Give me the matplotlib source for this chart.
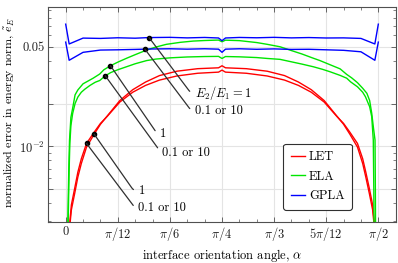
import numpy as np
import matplotlib
matplotlib.use("Agg")
import matplotlib.pyplot as plt
from matplotlib.ticker import FixedLocator, MultipleLocator, NullFormatter

plt.rcParams["font.family"] = "serif"
plt.rcParams["font.serif"] = ["cmr10"]
plt.rcParams["mathtext.fontset"] = "cm"
plt.rcParams["axes.unicode_minus"] = False

# orientation angle in degrees, normalized error
alpha_gpla = [0, 1, 5, 10, 15, 20, 24, 30, 35, 40, 44, 45, 46, 50, 55, 60, 65, 70, 75, 80, 85, 89, 90]
gpla_1 = [0.0720, 0.0523, 0.0575, 0.0572, 0.0578, 0.0574, 0.0580, 0.0582, 0.0577, 0.0581, 0.0576, 0.0551,
          0.0576, 0.0581, 0.0578, 0.0582, 0.0577, 0.0580, 0.0576, 0.0577, 0.0572, 0.0523, 0.0720]
gpla_k = [0.0539, 0.0402, 0.0457, 0.0474, 0.0476, 0.0479, 0.0482, 0.0484, 0.0481, 0.0484, 0.0481, 0.0457,
          0.0481, 0.0484, 0.0480, 0.0483, 0.0479, 0.0480, 0.0476, 0.0472, 0.0461, 0.0402, 0.0539]

alpha_ela_1 = [0.6, 0.75, 0.9, 1.1, 1.5, 2.0, 2.7, 3.5, 5, 7.9, 9.8, 11, 12.9, 15, 17.5, 20, 23.3, 26, 29, 33,
               36.7, 40, 44, 45, 46, 50, 55, 58, 61.7, 65, 68, 71, 73.2, 76, 79, 80.9, 82.3, 84, 85.5, 86.7,
               87.5, 88.1, 88.6, 89.05, 89.15, 89.2]
ela_1 = [0.0028, 0.0045, 0.0070, 0.0110, 0.0160, 0.0185, 0.0230, 0.0249, 0.0275, 0.0301,
         0.0322, 0.0345, 0.0368, 0.0390, 0.0415, 0.0440, 0.0474, 0.0498, 0.0520, 0.0537,
         0.0548, 0.0553, 0.0557, 0.0542, 0.0556, 0.0552, 0.0535, 0.0520, 0.0500, 0.0470,
         0.0445, 0.0418, 0.0400, 0.0375, 0.0350, 0.0320, 0.0303, 0.0280, 0.0256, 0.0236,
         0.0210, 0.0171, 0.0135, 0.0111, 0.0050, 0.0028]
alpha_ela_k = [0.7, 0.85, 1.0, 1.2, 1.5, 2.0, 2.7, 3.5, 4.5, 5.5, 7, 8.5, 9.8, 11.4, 13, 15, 17.5, 20, 23.3, 26,
               30, 35, 40, 44, 45, 46, 50, 55, 58, 61.7, 65, 68, 71.3, 74, 76.1, 79, 80.9, 82, 84, 85.5,
               86.3, 87.5, 88.1, 88.55, 88.7, 88.75]
ela_k = [0.0028, 0.0045, 0.0070, 0.0105, 0.0140, 0.0170, 0.0200, 0.0222, 0.0240, 0.0252,
         0.0268, 0.0282, 0.0290, 0.0313, 0.0330, 0.0345, 0.0362, 0.0380, 0.0400, 0.0410,
         0.0418, 0.0424, 0.0427, 0.0428, 0.0414, 0.0427, 0.0425, 0.0420, 0.0414, 0.0408,
         0.0392, 0.0378, 0.0362, 0.0347, 0.0334, 0.0315, 0.0301, 0.0284, 0.0262, 0.0240,
         0.0223, 0.0190, 0.0162, 0.0111, 0.0050, 0.0028]

alpha_let_1 = [1.2, 1.64, 2.6, 3.5, 4.5, 6, 8.2, 10, 12, 15.6, 19.3, 23, 27, 32, 38, 44, 45, 46, 52, 58,
               63, 67, 70.7, 74.4, 78, 80, 81.8, 84, 85.5, 86.4, 87.4, 88.36, 88.8]
let_1 = [0.0028, 0.0036, 0.0047, 0.0061, 0.0076, 0.0099, 0.0122, 0.0143, 0.0164, 0.0210,
         0.0250, 0.0283, 0.0314, 0.0337, 0.0351, 0.0356, 0.0368, 0.0356, 0.0351, 0.0337,
         0.0314, 0.0283, 0.0250, 0.0210, 0.0164, 0.0143, 0.0122, 0.0099, 0.0076, 0.0061,
         0.0047, 0.0036, 0.0028]
alpha_let_k = [1.1, 1.64, 2.6, 3.5, 4.5, 6, 8.2, 10, 12, 15.6, 19.3, 23, 27, 32, 38, 44, 45, 46, 52, 58,
               63, 67, 70.7, 74.4, 78, 80, 81.8, 84, 85.5, 86.4, 87.4, 88.36, 88.9]
let_k = [0.0028, 0.0039, 0.0051, 0.0066, 0.0082, 0.0105, 0.0126, 0.0145, 0.0163, 0.0205,
         0.0240, 0.0268, 0.0292, 0.0312, 0.0326, 0.0332, 0.0343, 0.0332, 0.0326, 0.0312,
         0.0292, 0.0268, 0.0240, 0.0205, 0.0163, 0.0145, 0.0126, 0.0105, 0.0082, 0.0066,
         0.0051, 0.0039, 0.0028]

xtick_labels = ["$0$", r"$\pi/12$", r"$\pi/6$", r"$\pi/4$", r"$\pi/3$", r"$5\pi/12$", r"$\pi/2$"]

red, green, blue = "#ff0000", "#00e600", "#0000ff"
fs = 9

fig = plt.figure(figsize=(3.98, 2.63), dpi=100)
ax = fig.add_axes([0.1214, 0.157, 0.8728, 0.8152])

series = {
    "let_1": (alpha_let_1, let_1, red),
    "let_k": (alpha_let_k, let_k, red),
    "ela_1": (alpha_ela_1, ela_1, green),
    "ela_k": (alpha_ela_k, ela_k, green),
    "gpla_1": (alpha_gpla, gpla_1, blue),
    "gpla_k": (alpha_gpla, gpla_k, blue),
}
labels = {"let_1": "LET", "ela_1": "ELA", "gpla_1": "GPLA"}
handles = []
for key, (a, v, c) in series.items():
    ln, = ax.plot(np.deg2rad(a), v, color=c, lw=1.0, zorder=3)
    if key in labels:
        ln.set_label(labels[key])
        handles.append(ln)

# annotations: (series, marker angle in deg, text, text x in rad, text y, leader angle)
notes = [
    ("gpla_1", 24.0, r"$E_2/E_1 = 1$", 0.649, 0.0236, 127),
    ("gpla_k", 22.8, "0.1 or 10", 0.649, 0.0178, 127),
    ("ela_1", 12.9, "1", 0.473, 0.01224, 124.5),
    ("ela_k", 11.4, "0.1 or 10", 0.484, 0.00896, 126),
    ("let_1", 8.2, "1", 0.367, 0.00488, 125),
    ("let_k", 6.0, "0.1 or 10", 0.364, 0.00369, 127),
]
for key, am, txt, tx, ty, ang in notes:
    a, v, c = series[key]
    vm = np.exp(np.interp(am, a, np.log(v)))
    ax.plot(np.deg2rad(am), vm, "o", color="black", ms=3.0, zorder=6)
    ax.annotate(txt, xy=(np.deg2rad(am), vm), xytext=(tx, ty), ha="left", va="center",
                fontsize=fs, zorder=6,
                arrowprops=dict(arrowstyle="-", color="#303030", lw=0.9, shrinkA=2, shrinkB=0,
                                connectionstyle=f"angle,angleA=0,angleB={ang},rad=4"))

ax.set_yscale("log")
ax.set_xlim(-np.pi / 36, np.pi / 2 + np.pi / 36)
ax.set_ylim(0.00297, 0.0945)

ax.set_xticks(np.arange(7) * np.pi / 12)
ax.set_xticklabels(xtick_labels)
ax.xaxis.set_minor_locator(MultipleLocator(np.pi / 36))
ax.yaxis.set_major_locator(FixedLocator([0.005, 0.01, 0.02, 0.05]))
ax.set_yticklabels(["", r"$10^{-2}$", "", "0.05"])
ax.yaxis.set_minor_locator(FixedLocator([0.003, 0.004, 0.006, 0.007, 0.008, 0.009,
                                         0.03, 0.04, 0.06, 0.07, 0.08, 0.09]))
ax.yaxis.set_minor_formatter(NullFormatter())

ax.tick_params(which="both", direction="in", top=True, right=True, colors="#505050",
               labelcolor="#202020", labelsize=fs)
ax.tick_params(axis="x", pad=2.5)
ax.tick_params(axis="y", pad=2.5)
ax.tick_params(which="major", length=3.5, width=0.6)
ax.tick_params(which="minor", length=2.2, width=0.5)
ax.grid(True, which="major", color="#e4e4e4", lw=0.8, zorder=0)
ax.set_axisbelow(True)
for s in ax.spines.values():
    s.set_color("#505050")
    s.set_linewidth(0.8)

ax.set_xlabel(r"interface orientation angle, $\alpha$", fontsize=fs)
ax.set_ylabel(r"normalized error in energy norm, $\tilde{e}_E$", fontsize=8.6)
ax.xaxis.set_label_coords(0.5, -0.118)
ax.yaxis.set_label_coords(-0.094, 0.51)

leg = ax.legend(handles=handles, loc="lower left", bbox_to_anchor=(0.676, 0.055), borderaxespad=0,
                fontsize=fs, handlelength=1.15, handletextpad=0.3, labelspacing=0.6,
                fancybox=True, framealpha=1, edgecolor="#303030", borderpad=0.6)
leg.get_frame().set_linewidth(0.8)

fig.savefig("out.png", dpi=100)
